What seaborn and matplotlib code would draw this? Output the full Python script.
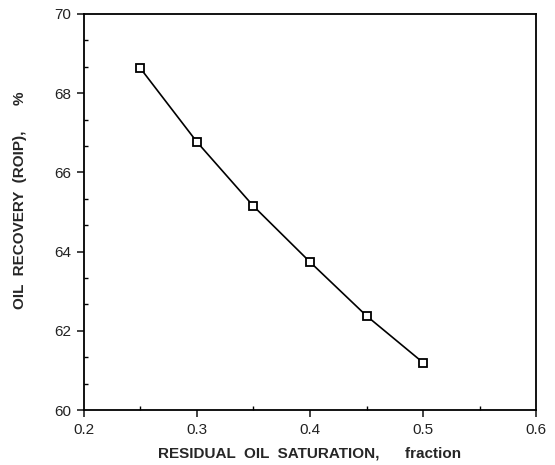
import matplotlib
matplotlib.use("Agg")
import matplotlib.pyplot as plt
import seaborn as sns
import pandas as pd
from matplotlib.ticker import MultipleLocator, FixedLocator

sns.set_style("ticks")
plt.rcParams['font.family'] = ['Liberation Sans', 'DejaVu Sans']

residual_oil_saturation = [0.25, 0.30, 0.35, 0.40, 0.45, 0.50]
oil_recovery = [68.63, 66.77, 65.15, 63.74, 62.38, 61.20]
x_ticks = [0.2, 0.3, 0.4, 0.5, 0.6]
y_ticks = [60, 62, 64, 66, 68, 70]

df = pd.DataFrame({"x": residual_oil_saturation, "y": oil_recovery})

fig = plt.figure(figsize=(5.55, 4.65), dpi=100)
ax = fig.add_axes([0.151, 0.118, 0.815, 0.852])

sns.lineplot(data=df, x="x", y="y", ax=ax, color="black", linewidth=1.2,
             marker="s", markersize=6, markerfacecolor="white",
             markeredgecolor="black", markeredgewidth=1.3)

ax.set_xlim(0.2, 0.6)
ax.set_ylim(60, 70)
ax.set_xticks(x_ticks)
ax.set_xticklabels([f"{v:.1f}" for v in x_ticks])
ax.set_yticks(y_ticks)
ax.set_yticklabels([str(v) for v in y_ticks])
ax.xaxis.set_minor_locator(MultipleLocator(0.05))
ax.yaxis.set_minor_locator(FixedLocator([60 + i * 2 / 3 for i in range(16)]))

for s in ax.spines.values():
    s.set_visible(True)
    s.set_linewidth(1.3)
    s.set_color("black")

ax.tick_params(axis="both", which="major", direction="out", length=5,
               width=1.2, labelsize=11, colors="#222222", pad=4)
ax.tick_params(axis="both", which="minor", direction="in", length=3,
               width=1.0, colors="black")

ax.set_xlabel("RESIDUAL  OIL  SATURATION,      fraction", fontsize=11,
              fontweight="bold", labelpad=7)
ax.set_ylabel("OIL  RECOVERY  (ROIP),      %", fontsize=11,
              fontweight="bold", labelpad=22)
ax.yaxis.set_label_coords(-0.125, 0.53)

fig.savefig("out.png", dpi=100)
